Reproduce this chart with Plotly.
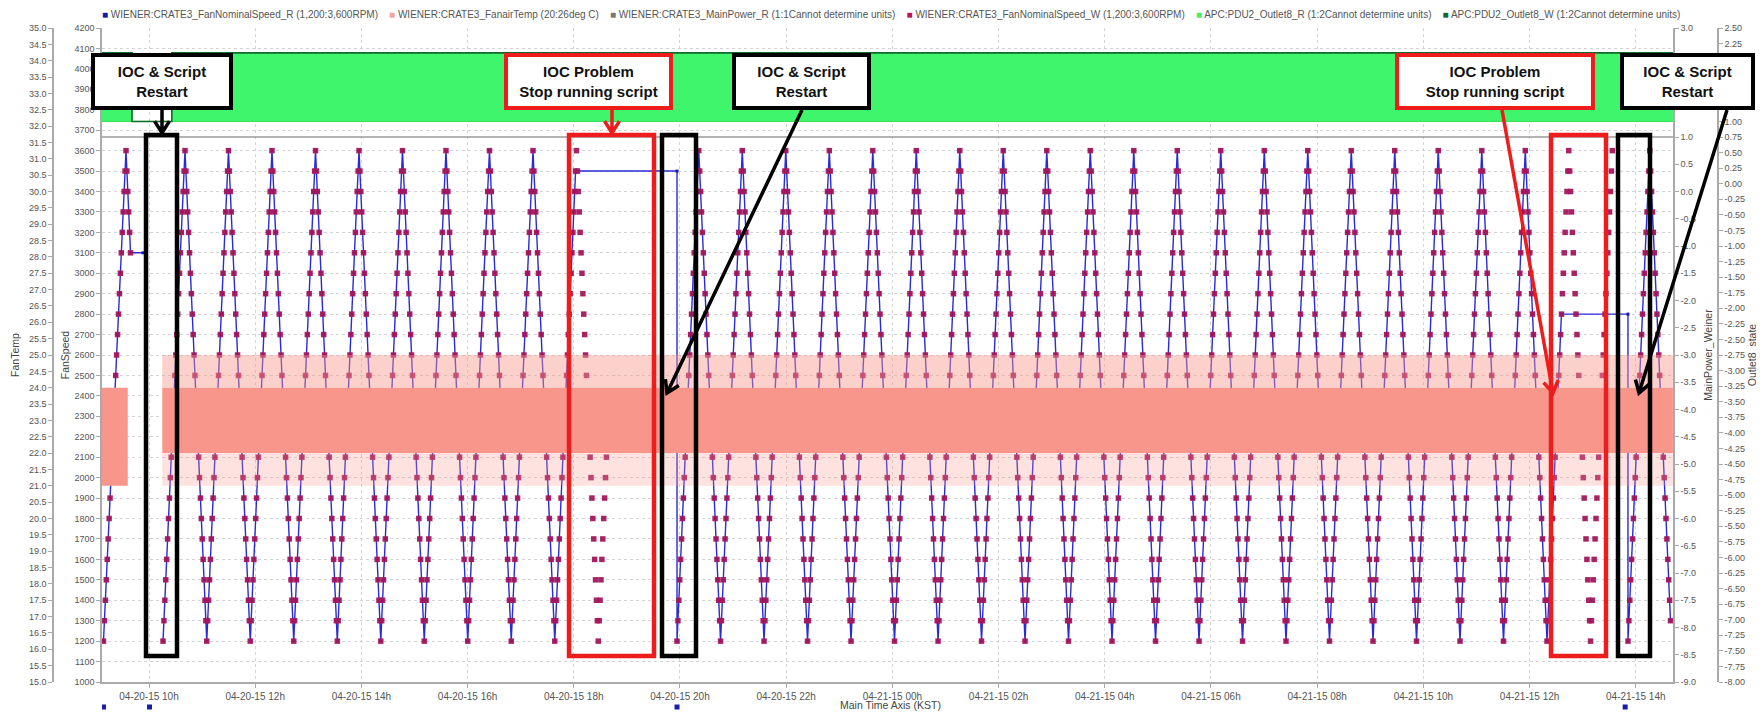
import math
import plotly.graph_objects as go
from datetime import datetime, timedelta

# ------------------------------------------------------------------ data
BASE = datetime(2015, 4, 20)  # hours below are counted from 2015-04-20 00:00 (KST)

# WIENER:CRATE3_FanNominalSpeed_W  - ramp turning points (hour, RPM)
W_RUN1_H = [9.143, 9.567, 9.652]
W_RUN1_V = [1200, 3600, 3100]
W_RUN2_H = [10.264, 10.678, 11.088, 11.497, 11.907, 12.316, 12.726, 13.136, 13.546, 13.955,
            14.365, 14.774, 15.184, 15.593, 16.003, 16.412, 16.822, 17.232, 17.642, 18.051,
            18.461, 18.632]
W_RUN2_V = [1200, 3600, 1200, 3600, 1200, 3600, 1200, 3600, 1200, 3600,
            1200, 3600, 1200, 3600, 1200, 3600, 1200, 3600, 1200, 3600,
            1200, 2200]
W_RUN3_H = [19.944, 20.354, 20.764, 21.173, 21.583, 21.992, 22.402, 22.812, 23.221, 23.631,
            24.040, 24.450, 24.860, 25.269, 25.679, 26.088, 26.498, 26.908, 27.317, 27.727,
            28.136, 28.546, 28.956, 29.365, 29.775, 30.184, 30.594, 31.004, 31.413, 31.823,
            32.232, 32.642, 33.052, 33.461, 33.871, 34.280, 34.690, 35.100, 35.509, 35.919,
            36.328, 36.738, 37.148, 37.558]
W_RUN3_V = [1200, 3600, 1200, 3600, 1200, 3600, 1200, 3600, 1200, 3600,
            1200, 3600, 1200, 3600, 1200, 3600, 1200, 3600, 1200, 3600,
            1200, 3600, 1200, 3600, 1200, 3600, 1200, 3600, 1200, 3600,
            1200, 3600, 1200, 3600, 1200, 3600, 1200, 3600, 1200, 3600,
            1200, 3600, 1200, 3600]
W_RUN4_H = [37.853, 38.263, 38.654]
W_RUN4_V = [1200, 3600, 1300]

# WIENER:CRATE3_FanNominalSpeed_R - readback turning points (stuck values during IOC problems)
R_RUN1_H = [9.143, 9.567, 9.652, 9.887]
R_RUN1_V = [1200, 3600, 3100, 3100]
R_STUCK1_H = [18.034, 19.944]
R_STUCK1_V = [3500, 3500]
R_STUCK2_H = [36.600, 37.853]
R_STUCK2_V = [2800, 2800]

# WIENER:CRATE3_FanairTemp - dense oscillation drawn as bands (deg C)
TEMP_CORE_START_H = [9.115, 10.25]
TEMP_CORE_END_H = [9.600, 38.70]
TEMP_CORE_LOW = [21.0, 22.0]
TEMP_CORE_HIGH = [24.0, 24.0]
TEMP_SPIKE_START_H = 10.25
TEMP_SPIKE_END_H = 38.70
TEMP_SPIKE_TOP = 25.0
TEMP_SPIKE_BOTTOM = 21.0

# WIENER:CRATE3_MainPower_R
MAINPOWER_H = [9.115, 38.70]
MAINPOWER_V = [1, 1]

# APC:PDU2_Outlet8_R / _W (state, step)
OUTLET_H = [9.115, 9.68, 10.43, 38.70]
OUTLET_V = [2.1, 1, 2.1, 2.1]
OUTLET_BASE = 1

# archiver disconnect markers (row under the time axis)
DISC_H = [9.143, 10.01, 19.944, 37.80]

LEGEND_LABELS = ["WIENER:CRATE3_FanNominalSpeed_R (1,200:3,600RPM)",
                 "WIENER:CRATE3_FanairTemp (20:26deg C)",
                 "WIENER:CRATE3_MainPower_R (1:1Cannot determine units)",
                 "WIENER:CRATE3_FanNominalSpeed_W (1,200:3,600RPM)",
                 "APC:PDU2_Outlet8_R (1:2Cannot determine units)",
                 "APC:PDU2_Outlet8_W (1:2Cannot determine units)"]
LEGEND_COLORS = ["#1a1aaa", "#f4a3a0", "#777777", "#c0105a", "#44ee66", "#116633"]

# ------------------------------------------------------------------ layout helpers
OFF = 8                      # page body margin
WF, HF = 1756, 706           # figure size
ML, MR, MT, MB = 2, 2, 20, 2


def px_x(px):                # screenshot px -> paper
    return (px - OFF - ML) / (WF - ML - MR)


def px_y(py):
    return (HF - MB - (py - OFF)) / (HF - MT - MB)


def ts(h):
    return None if h is None else BASE + timedelta(hours=h)


def expand(hs, vs, step=100):
    xs, ys = [], []
    for i in range(len(hs) - 1):
        h0, h1, v0, v1 = hs[i], hs[i + 1], vs[i], vs[i + 1]
        n = int(round(abs(v1 - v0) / step))
        if h1 == h0 or n == 0:
            xs.append(h0)
            ys.append(v0)
            continue
        for k in range(n):
            xs.append(h0 + (h1 - h0) * k / n)
            ys.append(v0 + (v1 - v0) * k / n)
    xs.append(hs[-1])
    ys.append(vs[-1])
    return xs, ys


def join(runs):
    xs, ys = [], []
    for hs, vs in runs:
        a, b = expand(hs, vs)
        if xs:
            xs.append(None)
            ys.append(None)
        xs += a
        ys += b
    return xs, ys


w_x, w_y = join([(W_RUN1_H, W_RUN1_V), (W_RUN2_H, W_RUN2_V), (W_RUN3_H, W_RUN3_V), (W_RUN4_H, W_RUN4_V)])
r_run2_h = W_RUN2_H[:19] + R_STUCK1_H + W_RUN3_H[:41] + R_STUCK2_H + W_RUN4_H
r_run2_v = W_RUN2_V[:19] + R_STUCK1_V + W_RUN3_V[:41] + R_STUCK2_V + W_RUN4_V
r_x, r_y = join([(R_RUN1_H, R_RUN1_V), (r_run2_h, r_run2_v)])

fig = go.Figure()

# FanairTemp bands
SAL = "248,150,140"
for lo_band, hi_band, alpha in [(TEMP_CORE_HIGH[1], TEMP_SPIKE_TOP, 0.45), (TEMP_SPIKE_BOTTOM, TEMP_CORE_LOW[1], 0.28)]:
    hx = [TEMP_SPIKE_START_H, TEMP_SPIKE_END_H, TEMP_SPIKE_END_H, TEMP_SPIKE_START_H, TEMP_SPIKE_START_H]
    fig.add_trace(go.Scatter(x=[ts(h) for h in hx], y=[lo_band, lo_band, hi_band, hi_band, lo_band],
                             fill="toself", fillcolor=f"rgba({SAL},{alpha})", line=dict(width=0),
                             mode="lines", yaxis="y2", showlegend=False, hoverinfo="skip"))
for h0, h1, lo, hi in zip(TEMP_CORE_START_H, TEMP_CORE_END_H, TEMP_CORE_LOW, TEMP_CORE_HIGH):
    hx = [h0, h1, h1, h0, h0]
    fig.add_trace(go.Scatter(x=[ts(h) for h in hx], y=[lo, lo, hi, hi, lo], fill="toself",
                             fillcolor=f"rgb({SAL})", line=dict(width=0), mode="lines",
                             yaxis="y2", showlegend=False, hoverinfo="skip"))

# MainPower_R
fig.add_trace(go.Scatter(x=[ts(h) for h in MAINPOWER_H], y=MAINPOWER_V, mode="lines",
                         line=dict(color="#9a9a9a", width=1.6), yaxis="y3", showlegend=False))

# FanNominalSpeed_R
fig.add_trace(go.Scatter(x=[ts(h) for h in r_x], y=r_y, mode="lines+markers",
                         line=dict(color="#2a2ad6", width=1.4),
                         marker=dict(symbol="square", size=3, color="#1a1aaa"),
                         yaxis="y", showlegend=False, connectgaps=False))
# FanNominalSpeed_W
fig.add_trace(go.Scatter(x=[ts(h) for h in w_x], y=w_y, mode="markers",
                         marker=dict(symbol="square", size=5.5, color="#a3175e", opacity=0.95),
                         yaxis="y", showlegend=False))

# Outlet8 R (fill between base and state) and W (line)
fig.add_trace(go.Scatter(x=[ts(h) for h in OUTLET_H], y=[OUTLET_BASE] * len(OUTLET_H), mode="lines",
                         line=dict(color="#33dd55", width=1, shape="hv"), yaxis="y4", showlegend=False))
fig.add_trace(go.Scatter(x=[ts(h) for h in OUTLET_H], y=OUTLET_V, mode="lines", fill="tonexty",
                         fillcolor="#3ef56b", line=dict(color="#3ef56b", width=0.5, shape="hv"),
                         yaxis="y4", showlegend=False))
fig.add_trace(go.Scatter(x=[ts(h) for h in OUTLET_H], y=OUTLET_V, mode="lines",
                         line=dict(color="#0d6b2c", width=1.6, shape="hv"), yaxis="y4", showlegend=False))

# disconnect markers: own thin strip under the time axis
fig.add_trace(go.Scatter(x=[ts(h) for h in DISC_H], y=[0.5] * len(DISC_H), mode="markers",
                         marker=dict(symbol="square", size=5, color="#1a1aaa"),
                         xaxis="x2", yaxis="y5", showlegend=False))

NARROW = "Liberation Sans Narrow, Arial Narrow, Liberation Sans, sans-serif"
TICKF = dict(family=NARROW, size=9, color="#555555")
TITLEF = dict(family="Liberation Sans, sans-serif", size=10.5, color="#444444")
GRID = "#d4d4d4"
AX = dict(showline=True, linecolor="#aaaaaa", linewidth=1.5, ticks="outside", ticklen=4,
          tickcolor="#aaaaaa", zeroline=False, automargin=False)


def ticks(lo, hi, step, fmt, hidden):
    vals, txt = [], []
    n = int(round((hi - lo) / step))
    for i in range(n + 1):
        v = round(lo + i * step, 4)
        vals.append(v)
        txt.append("" if any(abs(v - h) < 1e-6 for h in hidden) else format(v, fmt))
    return vals, txt


mp_vals, mp_txt = ticks(-9, 3, 0.5, ".1f", [1.5, 2.0, 2.5])
o8_vals, o8_txt = ticks(-8, 2.5, 0.25, ".2f", [1.25, 1.5, 1.75, 2.0])

XDOM = [px_x(102), px_x(1673)]
YDOM = [px_y(682), px_y(28)]
XRANGE = [ts(9.1149), ts(38.701)]

fig.update_layout(
    template="none",
    width=WF, height=HF,
    margin=dict(l=ML, r=MR, t=MT, b=MB, pad=0),
    paper_bgcolor="white", plot_bgcolor="white",
    showlegend=False,
    xaxis=dict(domain=XDOM, type="date", range=XRANGE, anchor="y",
               tickformat="%m-%d-%y %Hh", dtick=7200000, tick0=ts(10),
               showgrid=True, gridcolor=GRID, griddash="dot", gridwidth=1,
               tickfont=dict(family=NARROW, size=10, color="#555555"), **AX),
    xaxis2=dict(domain=XDOM, type="date", range=XRANGE, anchor="y5", visible=False),
    yaxis=dict(domain=YDOM, range=[1000, 4200], dtick=100, tickformat="d", side="left",
               showgrid=True, gridcolor=GRID, griddash="dot", tickfont=TICKF,
               title=dict(text="FanSpeed", font=TITLEF, standoff=3), **AX),
    yaxis2=dict(domain=YDOM, range=[15, 35], dtick=0.5, tickformat=".1f", overlaying="y", side="left",
                anchor="free", position=px_x(53), showgrid=False, tickfont=TICKF,
                title=dict(text="FanTemp", font=TITLEF, standoff=6), **AX),
    yaxis3=dict(domain=YDOM, range=[-9, 3], tickvals=mp_vals, ticktext=mp_txt, overlaying="y", side="right",
                anchor="x", showgrid=False, tickfont=TICKF,
                title=dict(text="MainPower_Weiner", font=TITLEF, standoff=10), **AX),
    yaxis4=dict(domain=YDOM, range=[-8, 2.5], tickvals=o8_vals, ticktext=o8_txt, overlaying="y", side="right",
                anchor="free", position=px_x(1718), showgrid=False, tickfont=TICKF,
                title=dict(text="Outlet8_state", font=TITLEF, standoff=4), **AX),
    yaxis5=dict(domain=[px_y(712), px_y(702)], range=[0, 1], anchor="x2", visible=False),
)

# ------------------------------------------------------------------ legend (top row) + x title
GAP = "&nbsp;&nbsp;&nbsp;&nbsp;"
legend_text = GAP.join(f"<span style='color:{c}'>■</span> {lab}" for lab, c in zip(LEGEND_LABELS, LEGEND_COLORS))
annotations = [
    dict(x=px_x(100), y=px_y(15), xref="paper", yref="paper", xanchor="left", yanchor="middle",
         showarrow=False, text=legend_text, font=dict(family=NARROW, size=10, color="#555555")),
    dict(x=px_x(890), y=px_y(705), xref="paper", yref="paper", xanchor="center", yanchor="middle",
         showarrow=False, text="Main Time Axis (KST)", font=TITLEF),
]

# ------------------------------------------------------------------ callouts
BOXES = [  # x0, y0, x1, y1 (screen px), colour, text
    (91, 53, 233, 110, "#000000", "IOC &amp; Script<br>Restart"),
    (504, 53, 673, 110, "#ee1c1c", "IOC Problem<br>Stop running script"),
    (732, 53, 871, 110, "#000000", "IOC &amp; Script<br>Restart"),
    (1395, 53, 1595, 110, "#ee1c1c", "IOC Problem<br>Stop running script"),
    (1620, 53, 1755, 110, "#000000", "IOC &amp; Script<br>Restart"),
]
BW = 4
for bx0, by0, bx1, by1, col, txt in BOXES:
    annotations.append(dict(x=px_x((bx0 + bx1) / 2), y=px_y((by0 + by1) / 2), xref="paper", yref="paper",
                            xanchor="center", yanchor="middle", showarrow=False,
                            text=f"<b>{txt}</b>", align="center", valign="middle",
                            width=bx1 - bx0 - 2 * BW, height=by1 - by0 - 2 * BW,
                            bgcolor="white", bordercolor=col, borderwidth=BW, borderpad=0,
                            font=dict(family="Liberation Sans, Arial, sans-serif", size=15, color="#111111")))

RECTS = [
    (146, 135, 177, 656, "#000000"),
    (569, 135, 654, 656, "#ee1c1c"),
    (662, 135, 696, 656, "#000000"),
    (1551, 135, 1606, 656, "#ee1c1c"),
    (1618, 135, 1650, 656, "#000000"),
]
shapes = []
for rx0, ry0, rx1, ry1, col in RECTS:
    shapes.append(dict(type="rect", xref="paper", yref="paper",
                       x0=px_x(rx0), x1=px_x(rx1), y0=px_y(ry1), y1=px_y(ry0),
                       line=dict(color=col, width=4.5), fillcolor="rgba(0,0,0,0)", layer="above"))

ARROWS = [
    (162, 110, 162, 133, "#000000"),
    (612, 110, 612, 133, "#ee1c1c"),
    (802, 110, 667, 393, "#000000"),
    (1502, 110, 1553, 393, "#ee1c1c"),
    (1727, 110, 1639, 393, "#000000"),
]
for ax0, ay0, ax1, ay1, col in ARROWS:
    dx, dy = ax1 - ax0, ay1 - ay0
    L = math.hypot(dx, dy)
    ux, uy = dx / L, dy / L
    hl = 14
    ang = math.radians(32)
    pts = []
    for s in (1, -1):
        ca, sa = math.cos(s * ang), math.sin(s * ang)
        bx = -(ux * ca - uy * sa) * hl
        by = -(ux * sa + uy * ca) * hl
        pts.append((ax1 + bx, ay1 + by))
    path = (f"M {px_x(ax0)},{px_y(ay0)} L {px_x(ax1)},{px_y(ay1)} "
            f"M {px_x(pts[0][0])},{px_y(pts[0][1])} L {px_x(ax1)},{px_y(ay1)} L {px_x(pts[1][0])},{px_y(pts[1][1])}")
    shapes.append(dict(type="path", xref="paper", yref="paper", path=path,
                       line=dict(color=col, width=3.5), layer="above"))

fig.update_layout(annotations=annotations, shapes=shapes)
fig.write_html("out.html")
